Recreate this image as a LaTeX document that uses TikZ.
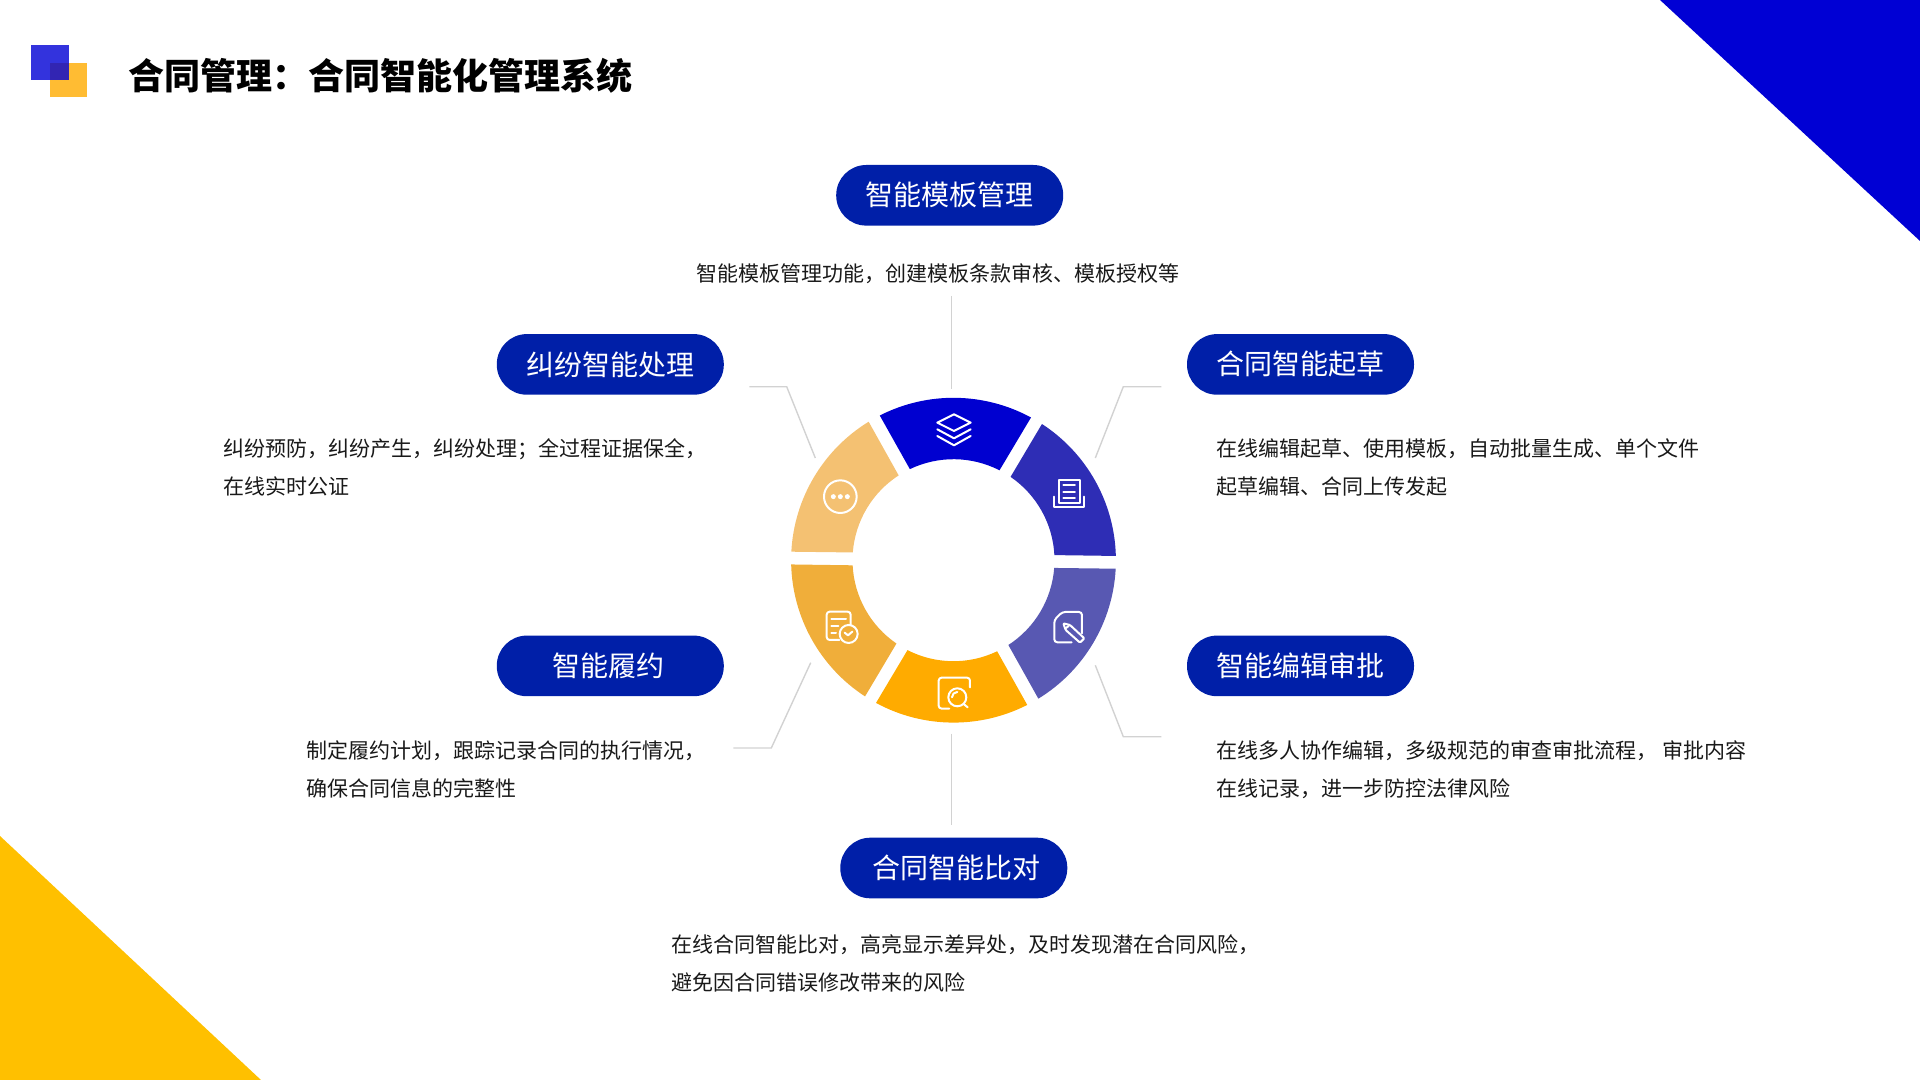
\documentclass[tikz,border=0pt]{standalone}
\usepackage{fontspec}
\setmainfont{Noto Sans CJK SC}
\usepackage{tikz}
\definecolor{cornerblue}{HTML}{0000D4}
\definecolor{corneryellow}{HTML}{FFC000}
\definecolor{logoblue}{HTML}{0000D4}
\definecolor{logoorange}{HTML}{FFAB00}
\definecolor{pillblue}{HTML}{001FA8}
\definecolor{leadgrey}{HTML}{D2D2D2}
\definecolor{segtop}{HTML}{0000D0}
\definecolor{segright}{HTML}{2E2DB5}
\definecolor{seglower}{HTML}{5858B2}
\definecolor{segbottom}{HTML}{FFAB00}
\definecolor{segleft}{HTML}{F0AE3A}
\definecolor{segupper}{HTML}{F4C172}

\begin{document}
\begin{tikzpicture}[x=0.5pt,y=-0.5pt]
\tikzstyle{every node}+=[inner sep=0pt]
\tikzstyle{pill}=[fill=pillblue,text=white,rounded corners=15pt,minimum width=113.5pt,minimum height=30.3pt,font=\fontsize{14}{17}\selectfont]
\tikzstyle{body}=[anchor=west,align=left,text=black!90,font=\fontsize{10.5}{19}\selectfont]
\tikzstyle{lead}=[draw=leadgrey,line width=0.7pt]
\tikzstyle{icon}=[draw=white,line width=1pt,line cap=round,line join=round]
\useasboundingbox (0,0) rectangle (1920,1080);
% corners and logo
\fill [cornerblue] (1660,0) -- (1920,241) -- (1920,0) -- cycle;
\fill [corneryellow] (0,836) -- (261,1080) -- (0,1080) -- cycle;
\fill [logoorange,opacity=0.8] (50,63) rectangle (87,97);
\fill [logoblue,opacity=0.8] (31,45) rectangle (69,80);
\node (title) [anchor=west,font=\fontsize{18}{22}\bfseries\selectfont] at (128.5,76) {合同管理：合同智能化管理系统};
% ring
\coordinate (ringc) at (953.5,560.2);
\fill [segtop] ([shift={(-117:162.4)}]ringc) arc (-117:-61.5:162.4) -- ([shift={(-62.9:101)}]ringc) arc (-62.9:-115.6:101) -- cycle;
\fill [segright] ([shift={(-57:162.4)}]ringc) arc (-57:-1.5:162.4) -- ([shift={(-2.9:101)}]ringc) arc (-2.9:-55.6:101) -- cycle;
\fill [seglower] ([shift={(3:162.4)}]ringc) arc (3:58.5:162.4) -- ([shift={(57.1:101)}]ringc) arc (57.1:4.4:101) -- cycle;
\fill [segbottom] ([shift={(63:162.4)}]ringc) arc (63:118.5:162.4) -- ([shift={(117.1:101)}]ringc) arc (117.1:64.4:101) -- cycle;
\fill [segleft] ([shift={(123:162.4)}]ringc) arc (123:178.5:162.4) -- ([shift={(177.1:101)}]ringc) arc (177.1:124.4:101) -- cycle;
\fill [segupper] ([shift={(183:162.4)}]ringc) arc (183:238.5:162.4) -- ([shift={(237.1:101)}]ringc) arc (237.1:184.4:101) -- cycle;
% icons
\begin{scope}[shift={(760,370)},scale=0.3333]
\draw [icon] (582,133) -- (632,158) -- (582,183) -- (532,158) -- cycle;
\draw [icon] (532,178) -- (582,205) -- (632,178);
\draw [icon] (532,198) -- (582,226) -- (632,198);
\draw [icon] (897,331) rectangle (960,399);
\draw [icon] (910,346) -- (945,346);
\draw [icon] (910,365) -- (945,365);
\draw [icon] (910,384) -- (945,384);
\draw [icon] (882,380) -- (882,412) -- (972,412) -- (972,380);
\draw [icon,rounded corners=1.5pt] (966,790) -- (966,726) -- (907,726) -- (883,750) -- (883,817) -- (935,817);
\draw [icon,rounded corners=0.5pt] (910,760) -- (930,765) -- (973,805) -- (960,818) -- (917,780) -- cycle;
\draw [icon] (917,775) -- (926,768);
\draw [icon,rounded corners=1.5pt] (630,952) -- (630,923) -- (536,923) -- (536,1016) -- (568,1016);
\draw [icon] (592,982) circle (27);
\draw [icon] (576,982) arc (180:270:16);
\draw [icon] (612,1003) -- (623,1012);
\draw [icon,rounded corners=1.5pt] (272,765) -- (272,725) -- (200,725) -- (200,810) -- (238,810);
\draw [icon] (214,747) -- (258,747);
\draw [icon] (214,768) -- (235,768);
\draw [icon] (214,788) -- (228,788);
\draw [icon] (266,792) circle (27);
\draw [icon] (254,788) -- (264,796) -- (277,785);
\draw [icon] (241,380) circle (49);
\fill [white] (220,380) circle (7.5);
\fill [white] (241,380) circle (7.5);
\fill [white] (262,380) circle (7.5);
\end{scope}
% pills
\node (tpl) [pill] at (949.7,195.3) {智能模板管理};
\node (draft) [pill] at (1300.5,364.4) {合同智能起草};
\node (review) [pill] at (1300.5,665.9) {智能编辑审批};
\node (compare) [pill] at (953.8,868) {\hspace*{3pt}合同智能比对};
\node (perform) [pill] at (610.3,665.9) {智能履约\hspace*{2pt}};
\node (dispute) [pill] at (610.3,364.4) {纠纷智能处理};
% text
\node (tpltxt) [body,anchor=center] at (937.9,273.5) {智能模板管理功能，创建模板条款审核、模板授权等};
\node (drafttxt) [body] at (1216,467.5) {在线编辑起草、使用模板，自动批量生成、单个文件\\起草编辑、合同上传发起};
\node (reviewtxt) [body] at (1216,769.5) {在线多人协作编辑，多级规范的审查审批流程， 审批内容\\在线记录，进一步防控法律风险};
\node (comparetxt) [body] at (671,963.5) {在线合同智能比对，高亮显示差异处，及时发现潜在合同风险，\\避免因合同错误修改带来的风险};
\node (performtxt) [body] at (306,769.5) {制定履约计划，跟踪记录合同的执行情况，\\确保合同信息的完整性};
\node (disputetxt) [body] at (222.9,467.5) {纠纷预防，纠纷产生，纠纷处理；全过程证据保全，\\在线实时公证};
% leaders
\coordinate (tpla) at (951.7,296);
\coordinate (tplb) at (951.7,389);
\draw [lead] (tpla) -- (tplb);
\coordinate (compa) at (951.7,733.5);
\coordinate (compb) at (951.7,825);
\draw [lead] (compa) -- (compb);
\coordinate (drafta) at (1161.3,386.7);
\coordinate (draftb) at (1123.3,386.7);
\coordinate (draftc) at (1095.3,458);
\draw [lead] (drafta) -- (draftb) -- (draftc);
\coordinate (reva) at (1161.3,736.7);
\coordinate (revb) at (1123.3,736.7);
\coordinate (revc) at (1095.3,665.3);
\draw [lead] (reva) -- (revb) -- (revc);
\coordinate (perfa) at (733.3,748);
\coordinate (perfb) at (771.3,748);
\coordinate (perfc) at (810.7,662.7);
\draw [lead] (perfa) -- (perfb) -- (perfc);
\coordinate (dispa) at (749.3,386.7);
\coordinate (dispb) at (786.7,386.7);
\coordinate (dispc) at (815.3,458);
\draw [lead] (dispa) -- (dispb) -- (dispc);
\end{tikzpicture}
\end{document}
